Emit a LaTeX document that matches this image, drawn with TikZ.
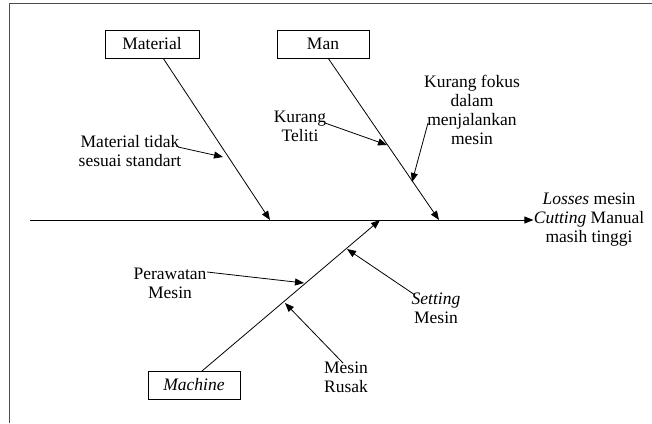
\documentclass[tikz,border=0pt]{standalone}
\usepackage{fontspec}
\setmainfont{Liberation Serif}
\usetikzlibrary{arrows.meta}
\begin{document}
\begin{tikzpicture}[x=1pt,y=-1pt,line width=0.8pt,
  font=\fontsize{17.5}{19}\selectfont,
  box/.style={draw,line width=0.8pt,minimum height=28pt,inner sep=0pt},
  lbl/.style={align=center,inner sep=0pt},
  arr/.style={-{Triangle[length=9pt,width=7pt]}}]
\useasboundingbox (0,0) rectangle (652,423);
\draw[line width=1pt,black!70] (9,423) -- (9,3) -- (652,3);
% boxes
\node[box,minimum width=94pt] (mat) at (152,44) {Material};
\node[box,minimum width=92pt] (man) at (323,44) {Man};
\node[box,minimum width=92pt] (mach) at (194,385) {\textit{Machine}};
% effect
\node[lbl] (eff) at (589,220) {\textit{Losses} mesin\\\textit{Cutting} Manual\\masih tinggi};
% spine
\coordinate (s0) at (30,220);
\draw[arr] (s0) -- (eff.west);
% bones
\coordinate (m0) at (163,58);  \coordinate (m1) at (270,220);
\coordinate (n0) at (328,58);  \coordinate (n1) at (439,220);
\coordinate (c0) at (202,371); \coordinate (c1) at (380,220);
\draw[arr] (m0) -- (m1);
\draw[arr] (n0) -- (n1);
\draw[arr] (c0) -- (c1);
% cause labels
\node[lbl] (t1) at (130,151) {Material tidak\\sesuai standart};
\node[lbl] (t2) at (300,126) {Kurang\\Teliti};
\node[lbl] (t3) at (472,110) {Kurang fokus\\dalam\\menjalankan\\mesin};
\node[lbl] (t4) at (170,283) {Perawatan\\Mesin};
\node[lbl] (t5) at (436,308) {\textit{Setting}\\Mesin};
\node[lbl] (t6) at (346,377) {Mesin\\Rusak};
% sub arrows
\coordinate (a1) at (178,147); \coordinate (b1) at (223,157);
\coordinate (a2) at (325,123); \coordinate (b2) at (387,145);
\coordinate (a3) at (428,123); \coordinate (b3) at (412,182);
\coordinate (a4) at (207,272); \coordinate (b4) at (304,283);
\coordinate (a5) at (415,295); \coordinate (b5) at (347,249);
\coordinate (a6) at (343,363); \coordinate (b6) at (285,303);
\foreach \i in {1,...,6} \draw[arr] (a\i) -- (b\i);
\end{tikzpicture}
\end{document}
